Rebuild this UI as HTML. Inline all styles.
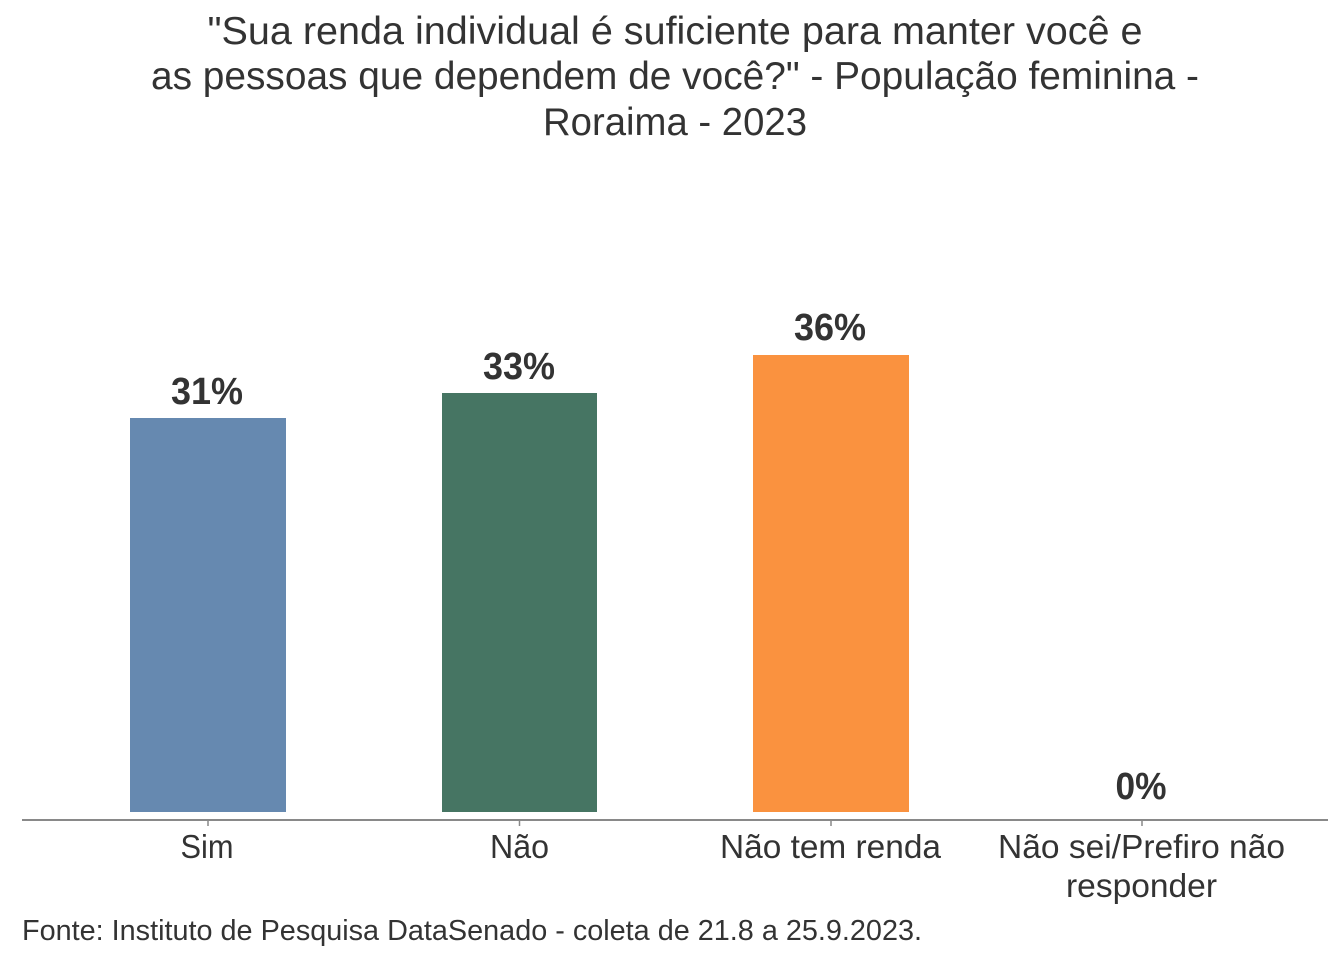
<!DOCTYPE html>
<html>
<head>
<meta charset="utf-8">
<style>
  html, body { margin: 0; padding: 0; background: #ffffff; }
  svg { display: block; }
  text { font-family: "Liberation Sans", "DejaVu Sans", sans-serif; fill: #333333; }
</style>
</head>
<body>
<svg width="1344" height="960" viewBox="0 0 1344 960" xmlns="http://www.w3.org/2000/svg">
  <rect x="0" y="0" width="1344" height="960" fill="#ffffff"/>

  <!-- Title -->
  <text x="675" y="44" font-size="39" text-anchor="middle" textLength="935" lengthAdjust="spacingAndGlyphs">"Sua renda individual é suficiente para manter você e</text>
  <text x="675" y="89" font-size="39" text-anchor="middle" textLength="1048" lengthAdjust="spacingAndGlyphs">as pessoas que dependem de você?" - População feminina -</text>
  <text x="675" y="135" font-size="39" text-anchor="middle" textLength="264" lengthAdjust="spacingAndGlyphs">Roraima - 2023</text>

  <!-- Bars -->
  <rect x="130" y="418" width="156" height="394" fill="#6689b0"/>
  <rect x="442" y="393" width="155" height="419" fill="#467563"/>
  <rect x="753" y="355" width="156" height="457" fill="#fa923f"/>

  <!-- Bar labels -->
  <text x="207" y="404" font-size="38" font-weight="bold" text-anchor="middle" textLength="72" lengthAdjust="spacingAndGlyphs">31%</text>
  <text x="519" y="379" font-size="38" font-weight="bold" text-anchor="middle" textLength="72" lengthAdjust="spacingAndGlyphs">33%</text>
  <text x="830" y="340" font-size="38" font-weight="bold" text-anchor="middle" textLength="72" lengthAdjust="spacingAndGlyphs">36%</text>
  <text x="1141" y="799" font-size="38" font-weight="bold" text-anchor="middle" textLength="51" lengthAdjust="spacingAndGlyphs">0%</text>

  <!-- Axis -->
  <line x1="22" y1="820" x2="1328" y2="820" stroke="#898989" stroke-width="2"/>
  <line x1="208" y1="820" x2="208" y2="826" stroke="#898989" stroke-width="1.5"/>
  <line x1="519.5" y1="820" x2="519.5" y2="826" stroke="#898989" stroke-width="1.5"/>
  <line x1="831" y1="820" x2="831" y2="826" stroke="#898989" stroke-width="1.5"/>
  <line x1="1142" y1="820" x2="1142" y2="826" stroke="#898989" stroke-width="1.5"/>

  <!-- Category labels -->
  <text x="207" y="858" font-size="33" text-anchor="middle" textLength="53" lengthAdjust="spacingAndGlyphs">Sim</text>
  <text x="519.5" y="858" font-size="33" text-anchor="middle" textLength="59" lengthAdjust="spacingAndGlyphs">Não</text>
  <text x="830.5" y="858" font-size="33" text-anchor="middle" textLength="221" lengthAdjust="spacingAndGlyphs">Não tem renda</text>
  <text x="1141.5" y="858" font-size="33" text-anchor="middle" textLength="287" lengthAdjust="spacingAndGlyphs">Não sei/Prefiro não</text>
  <text x="1141.5" y="897" font-size="33" text-anchor="middle" textLength="151" lengthAdjust="spacingAndGlyphs">responder</text>

  <!-- Footer -->
  <text x="22" y="940" font-size="29" textLength="900" lengthAdjust="spacingAndGlyphs">Fonte: Instituto de Pesquisa DataSenado - coleta de 21.8 a 25.9.2023.</text>
</svg>
</body>
</html>
